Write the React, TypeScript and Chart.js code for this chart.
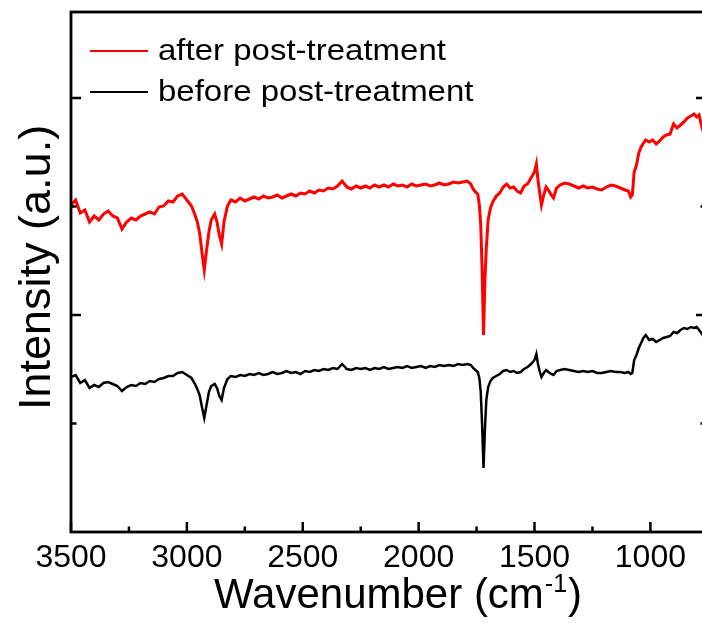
import { useEffect, useRef } from "react";
import { Chart, registerables } from "chart.js";

Chart.register(...registerables);

const wavenumbers = [
  3500, 3480, 3460, 3440, 3420, 3400, 3380, 3360, 3340, 3320, 3300, 3280, 3260, 3240, 3220, 3200, 3180, 3160, 3140, 3120, 3100, 3080, 3060, 3040, 3020, 3000,
  2980, 2965, 2955, 2945, 2935, 2925, 2915, 2905, 2895, 2880, 2870, 2860, 2850, 2840, 2825, 2810,
  2790, 2770, 2750, 2730, 2710, 2690, 2670, 2650, 2630, 2610, 2590, 2570, 2550, 2530, 2510, 2490, 2470, 2450, 2430, 2410, 2390, 2370, 2350, 2330, 2310, 2290, 2270, 2250, 2230, 2210, 2190, 2170, 2150, 2130, 2110, 2090, 2070, 2050, 2030, 2010, 1990, 1970, 1950, 1930, 1910, 1890, 1870, 1850, 1830, 1810, 1790,
  1775, 1765, 1755, 1745, 1738, 1732, 1726, 1720, 1714, 1708, 1700, 1690, 1680,
  1665, 1650, 1635, 1620, 1605, 1590, 1575, 1560, 1545, 1530, 1515, 1500,
  1492, 1485, 1478, 1470, 1460, 1450, 1440, 1428, 1418, 1405, 1390,
  1370, 1350, 1330, 1310, 1290, 1270, 1250, 1230, 1210, 1190, 1170, 1150, 1130, 1110,
  1095, 1085, 1078, 1070, 1060, 1050, 1040, 1030, 1020,
  1005, 990, 975, 960, 945, 930, 915, 900, 885, 870, 855, 840, 825,
  812, 800, 790, 780, 770, 760,
];

const afterTreatment = [
  327, 332, 319, 322, 310, 316, 312, 318, 321, 316, 314, 303, 310, 314, 312, 316, 318, 320, 318, 325, 326, 331, 330, 336, 338, 332,
  326, 317, 310, 299, 280, 262, 282, 300, 312, 318, 310, 297, 288, 310, 326, 332,
  330, 334, 331, 333, 335, 333, 336, 334, 335, 337, 334, 336, 338, 336, 339, 338, 341, 339, 342, 341, 344, 343, 346, 351, 345, 343, 346, 344, 346, 344, 347, 345, 347, 345, 348, 346, 347, 345, 348, 346, 347, 348, 346, 347, 349, 347, 348, 350, 349, 350, 351,
  348, 343, 340, 338, 327, 307, 262, 197, 252, 284, 312, 324, 330,
  336, 339, 345, 348, 344, 345, 341, 339, 346, 348, 354, 360,
  368, 352, 340, 327, 337, 345, 342, 337, 334, 344, 347,
  349, 348, 346, 344, 346, 344, 345, 343, 342, 345, 347, 346, 344, 342,
  341, 335, 337, 360, 367, 379, 385, 389, 392,
  390, 392, 388, 391, 395, 397, 398, 408, 404, 407, 410, 414, 416,
  418, 415, 417, 407, 399, 394,
];

const beforeTreatment = [
  155, 157, 149, 152, 144, 147, 145, 149, 150, 148, 146, 141, 145, 147, 146, 149, 148, 151, 150, 153, 154, 156, 156, 159, 160, 157,
  154, 148, 143, 137, 125, 114, 127, 140, 146, 148, 144, 136, 132, 144, 153, 156,
  155, 157, 156, 158, 157, 159, 157, 158, 160, 158, 159, 161, 159, 160, 158, 161, 160, 162, 161, 163, 162, 164, 163, 168, 163, 162, 164, 163, 164, 162, 164, 163, 165, 163, 164, 165, 164, 166, 164, 165, 166, 164, 166, 165, 167, 166, 167, 166, 168, 167, 168,
  167, 164, 162, 160, 154, 140, 107, 64, 102, 132, 145, 151, 154,
  156, 158, 161, 162, 160, 161, 159, 160, 163, 165, 168, 172,
  178, 168, 161, 155, 159, 162, 160, 158, 157, 161, 162,
  163, 162, 161, 160, 161, 160, 161, 159, 159, 160, 161, 160, 160, 159,
  160, 158, 159, 172, 177, 184, 189, 194, 197,
  192, 193, 190, 192, 194, 195, 196, 200, 199, 202, 204, 203, 205,
  204, 205, 202, 199, 195, 193,
];

const seriesLabels = ["after post-treatment", "before post-treatment"];
const seriesColors = ["#ff0000", "#000000"];
const xMajorTicks = [3500, 3000, 2500, 2000, 1500, 1000];
const xMinorTicks = [3250, 2750, 2250, 1750, 1250];
const yMajorTicks = [217, 434];
const yMinorTicks = [108.5, 325.5];
const xTitleMain = "Wavenumber (cm";
const xTitleSup = "-1";
const xTitleEnd = ")";
const yTitle = "Intensity (a.u.)";

const FONT = "'Liberation Sans', Arial, Helvetica, sans-serif";

function drawText(
  ctx: CanvasRenderingContext2D,
  text: string,
  x: number,
  y: number,
  size: number,
  sx: number,
  align: CanvasTextAlign = "left"
): number {
  ctx.save();
  ctx.font = `${size}px ${FONT}`;
  ctx.textBaseline = "alphabetic";
  ctx.textAlign = align;
  const w = ctx.measureText(text).width * sx;
  ctx.translate(x, y);
  ctx.scale(sx, 1);
  ctx.fillText(text, 0, 0);
  ctx.restore();
  return w;
}

const framePlugin = {
  id: "originFrame",
  afterDraw(chart: any) {
    const { ctx, chartArea: a, scales } = chart;
    const x = scales.x;
    const y = scales.y;
    ctx.save();
    ctx.strokeStyle = "#000";
    ctx.fillStyle = "#000";
    ctx.lineWidth = 2.8;
    ctx.strokeRect(a.left, a.top, a.right - a.left, a.bottom - a.top);

    ctx.lineWidth = 2.5;
    ctx.beginPath();
    for (const t of xMajorTicks) {
      const px = x.getPixelForValue(t);
      ctx.moveTo(px, a.bottom);
      ctx.lineTo(px, a.bottom - 10);
    }
    for (const t of xMinorTicks) {
      const px = x.getPixelForValue(t);
      ctx.moveTo(px, a.bottom);
      ctx.lineTo(px, a.bottom - 5.5);
    }
    for (const t of yMajorTicks) {
      const py = y.getPixelForValue(t);
      ctx.moveTo(a.left, py);
      ctx.lineTo(a.left + 10, py);
      ctx.moveTo(a.right, py);
      ctx.lineTo(a.right - 10, py);
    }
    for (const t of yMinorTicks) {
      const py = y.getPixelForValue(t);
      ctx.moveTo(a.left, py);
      ctx.lineTo(a.left + 5.5, py);
      ctx.moveTo(a.right, py);
      ctx.lineTo(a.right - 5.5, py);
    }
    ctx.stroke();

    for (const t of xMajorTicks) {
      drawText(ctx, String(t), x.getPixelForValue(t), a.bottom + 35, 32, 1, "center");
    }

    // x title
    let cx = 214;
    const base = a.bottom + 76;
    cx += drawText(ctx, xTitleMain, cx, base, 42, 1);
    cx += 1;
    cx += drawText(ctx, xTitleSup, cx, base - 16, 25, 1);
    cx += 1;
    drawText(ctx, xTitleEnd, cx, base, 42, 1);

    // y title
    ctx.save();
    ctx.translate(50, 410);
    ctx.rotate(-Math.PI / 2);
    ctx.font = `45px ${FONT}`;
    ctx.textAlign = "left";
    ctx.textBaseline = "alphabetic";
    ctx.fillText(yTitle, 0, 0);
    ctx.restore();

    // legend
    const rows = [a.top + 39, a.top + 80];
    seriesLabels.forEach((lbl, i) => {
      ctx.strokeStyle = seriesColors[i];
      ctx.lineWidth = 2.2;
      ctx.beginPath();
      ctx.moveTo(a.left + 19, rows[i]);
      ctx.lineTo(a.left + 77, rows[i]);
      ctx.stroke();
      ctx.fillStyle = "#000";
      drawText(ctx, lbl, a.left + 87, rows[i] + 9, 30, 1.1);
    });
    ctx.restore();
  },
};

export default function App() {
  const ref = useRef<HTMLCanvasElement | null>(null);
  useEffect(() => {
    if (!ref.current) return;
    const chart = new Chart(ref.current, {
      type: "line",
      data: {
        datasets: [
          {
            label: seriesLabels[0],
            data: wavenumbers.map((w, i) => ({ x: w, y: afterTreatment[i] })),
            borderColor: seriesColors[0],
            borderWidth: 3,
            pointRadius: 0,
            tension: 0,
          },
          {
            label: seriesLabels[1],
            data: wavenumbers.map((w, i) => ({ x: w, y: beforeTreatment[i] })),
            borderColor: seriesColors[1],
            borderWidth: 2.5,
            pointRadius: 0,
            tension: 0,
          },
        ],
      },
      options: {
        responsive: false,
        animation: false,
        devicePixelRatio: 1,
        layout: { padding: { left: 71, top: 12, right: 10, bottom: 97 } },
        plugins: { legend: { display: false }, tooltip: { enabled: false }, title: { display: false } },
        scales: {
          x: { type: "linear", min: 760, max: 3500, reverse: true, display: false },
          y: { type: "linear", min: 0, max: 520, display: false },
        },
      },
      plugins: [framePlugin],
    });
    return () => chart.destroy();
  }, []);
  return (
    <div style={{ position: "absolute", left: 0, top: 0, width: 702, height: 629, overflow: "hidden", background: "#fff" }}>
      <canvas ref={ref} width={716} height={629} style={{ display: "block" }} />
    </div>
  );
}
